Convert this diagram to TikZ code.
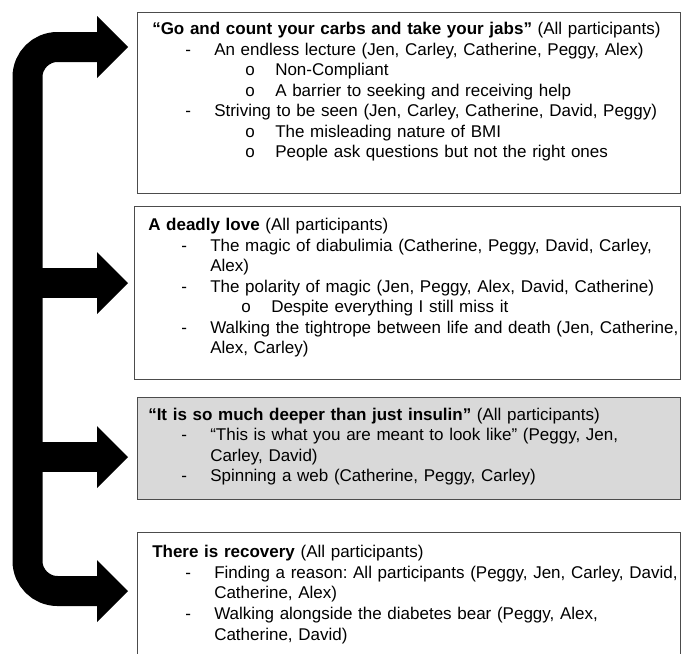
\documentclass[tikz,border=0pt]{standalone}
\usepackage{fontspec}
\setmainfont{Liberation Sans}
\usetikzlibrary{arrows.meta,positioning}

\newcommand{\lvlone}{\hspace*{24.75pt}\makebox[21.75pt][l]{-}}
\newcommand{\lvlcont}{\hspace*{46.5pt}}
\newcommand{\lvltwo}{\hspace*{69.75pt}\makebox[22.5pt][l]{o}}

\begin{document}
\begin{tikzpicture}[x=0.75pt,y=-0.75pt,
  themebox/.style={draw=black!70,line width=0.8pt,anchor=north west,inner sep=0pt,minimum width=407.25pt},
  themetext/.style={align=left,text width=420pt,inner sep=0pt,font=\fontsize{12.75pt}{15.4pt}\selectfont\frenchspacing},
  spine/.style={line width=22.5pt,rounded corners=22.5pt},
  bigtip/.tip={Triangle[length=23.25pt,width=46.5pt,line width=0pt]}]
\useasboundingbox (0,0) rectangle (681,653);
\clip (0,0) rectangle (681,653);

% theme boxes
\node[themebox,minimum height=135.75pt] (box1) at (137,12) {};
\node[themebox,minimum width=409.5pt,minimum height=129.75pt] (box2) at (134,206) {};
\node[themebox,fill=black!15,minimum height=76.5pt] (box3) at (137,397) {};
\node[themebox,minimum height=110pt] (box4) at (137,532) {};

\node[themetext,below right=7.5pt and 11.25pt of box1.north west] (theme1) {\textbf{“Go and count your carbs and take your jabs”} (All participants)\\
\lvlone An endless lecture (Jen, Carley, Catherine, Peggy, Alex)\\
\lvltwo Non-Compliant\\
\lvltwo A barrier to seeking and receiving help\\
\lvlone Striving to be seen (Jen, Carley, Catherine, David, Peggy)\\
\lvltwo The misleading nature of BMI\\
\lvltwo People ask questions but not the right ones};

\node[themetext,below right=9pt and 10.5pt of box2.north west] (theme2) {\textbf{A deadly love} (All participants)\\
\lvlone The magic of diabulimia (Catherine, Peggy, David, Carley,\\
\lvlcont Alex)\\
\lvlone The polarity of magic (Jen, Peggy, Alex, David, Catherine)\\
\lvltwo Despite everything I still miss it\\
\lvlone Walking the tightrope between life and death (Jen, Catherine,\\
\lvlcont Alex, Carley)};

\node[themetext,below right=8pt and 8.25pt of box3.north west] (theme3) {\textbf{“It is so much deeper than just insulin”} (All participants)\\
\lvlone “This is what you are meant to look like” (Peggy, Jen,\\
\lvlcont Carley, David)\\
\lvlone Spinning a web (Catherine, Peggy, Carley)};

\node[themetext,below right=10pt and 11.25pt of box4.north west] (theme4) {\textbf{There is recovery} (All participants)\\
\lvlone Finding a reason: All participants (Peggy, Jen, Carley, David,\\
\lvlcont Catherine, Alex)\\
\lvlone Walking alongside the diabetes bear (Peggy, Alex,\\
\lvlcont Catherine, David)};

% bracket arrow
\coordinate (tip1) at (128,47);
\coordinate (tip2) at (128,283);
\coordinate (tip3) at (128,457);
\coordinate (tip4) at (128,591);
\coordinate (bend1) at (27.5,47);
\coordinate (bend4) at (27.5,591);
\draw[spine,{bigtip}-{bigtip}] (tip1) -- (bend1) -- (bend4) -- (tip4);
\draw[spine,-{bigtip}] (bend1 |- tip2) -- (tip2);
\draw[spine,-{bigtip}] (bend1 |- tip3) -- (tip3);
\end{tikzpicture}
\end{document}
